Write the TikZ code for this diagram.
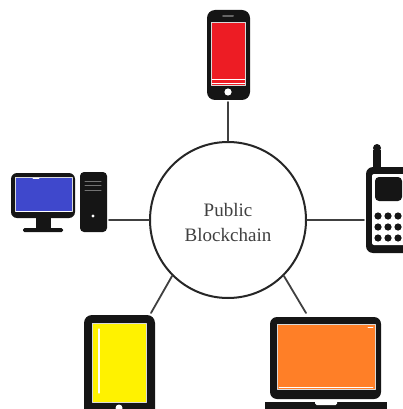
\documentclass[tikz,border=0pt]{standalone}
\usepackage{fontspec}
\setmainfont{Liberation Serif}
\definecolor{bodyc}{HTML}{151515}
\definecolor{redc}{HTML}{ED1C24}
\definecolor{bluec}{HTML}{3F48CC}
\definecolor{yellowc}{HTML}{FFF200}
\definecolor{orangec}{HTML}{FF7F27}
\tikzset{
	hub/.style={draw=black!85,line width=2pt,circle,minimum size=156pt,inner sep=0pt},
	hubtext/.style={align=center,font=\fontsize{19}{25}\selectfont,text=black!75},
	link/.style={draw=black!75,line width=1.8pt},
	body/.style={fill=bodyc,rounded corners=#1},
	body/.default=6pt,
	screen/.style={fill=#1,draw=black!15,line width=.9pt},
	glint/.style={draw=white,line width=1.2pt}
}
\begin{document}
\begin{tikzpicture}[x=1pt,y=-1pt,line join=round,line cap=round]
	\clip (0,0) rectangle (403,409);
	\path 
	(228,102) coordinate (PH)
	(109,220) coordinate (PC)
	(364,220) coordinate (CE)
	(151,313) coordinate (TA)
	(306,313) coordinate (LA)
	;
	\node[hub] (chain) at (228,220) {};
	\node[hubtext] (name) at (228,222) {Public\\Blockchain};
	\draw[link] (chain)--(PH);
	\draw[link] (chain)--(PC);
	\draw[link] (chain)--(CE);
	\draw[link] (chain.225)--(TA);
	\draw[link] (chain.-45)--(LA);
	% phone
	\fill[body=8pt] (207,10) rectangle (250,100);
	\fill[screen=redc] (211.5,22) rectangle (245.5,85.5);
	\draw[glint,line width=.8pt] (212,79)--(245,79) (212,83.5)--(245,83.5);
	\fill[white] (228,92) circle (3.6);
	\draw[black!60,line width=2pt] (223,16.5)--(233,16.5);
	% computer
	\fill[body] (11,173) rectangle (75,218);
	\fill[screen=bluec] (15.5,177) rectangle (72,211);
	\draw[glint,line width=.8pt] (33,178)--(39,178) (16,211)--(71,211);
	\fill[bodyc] (36,216) rectangle (51,229);
	\fill[body=1.5pt] (23,228) rectangle (63,232);
	\fill[body=4pt] (80,172) rectangle (107,232);
	\draw[black!55,line width=1pt] (85,181)--(101,181) (85,185.5)--(101,185.5) (85,190)--(101,190);
	\fill[white] (93,216) circle (1.7);
	% cell phone
	\fill[bodyc] (373,150) rectangle (381,170);
	\fill[bodyc] (377,148) circle (4);
	\fill[body=7pt] (366,167) rectangle (420,253);
	\fill[white,rounded corners=2pt] (372,174) rectangle (420,245);
	\fill[bodyc,rounded corners=4pt] (375,177) rectangle (402,201);
	\foreach \row in {216,227,238}{
		\foreach \col in {378,388,398}{
			\fill[bodyc] (\col,\row) circle (3.6);
		}
	}
	% tablet
	\fill[body=8pt] (84,315) rectangle (155,425);
	\fill[screen=yellowc] (92.5,323.5) rectangle (146.5,402);
	\draw[glint] (99,329)--(99,393);
	\fill[white] (119,408) circle (3.5);
	% laptop
	\fill[body=7pt] (270,317) rectangle (381,399);
	\fill[screen=orangec] (277,324.5) rectangle (375,389);
	\draw[glint,line width=.8pt] (279,387)--(373,387) (368,327)--(373,327);
	\fill[bodyc] (265,402) rectangle (387,412);
	\fill[white,rounded corners=1.5pt] (315,400) rectangle (337,405);
\end{tikzpicture}
\end{document}
